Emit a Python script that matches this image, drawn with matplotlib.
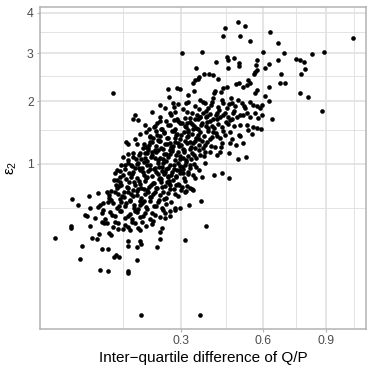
import numpy as np
import matplotlib
matplotlib.use("Agg")
import matplotlib.pyplot as plt

plt.rcParams['font.family'] = ['Liberation Sans', 'DejaVu Sans']
plt.rcParams['mathtext.fontset'] = 'custom'
plt.rcParams['mathtext.rm'] = 'Liberation Sans'
plt.rcParams['mathtext.it'] = 'Liberation Sans:italic'

# ---- data ----
x_iqr = [
    # top outliers
    .497, .524, .447, .440, .505, .629, .545, .664, 1.045, .303, .367, .599, .692, .826, .888, .455, .459, .481,
    # eps 2.45 - 2.9
    .415, .501, .501, .574, .569, .625, .664, .748, .767, .786, .347, .459, .607, .791, .574, .565, .561, .373,
    .390, .404, .678, .772, .356, .353, .422,
    # eps 2.1 - 2.45
    .344, .337, .501, .489, .536, .545, .674, .696, .262, .288, .297, .440, .455, .411, .408, .340, .321, .433,
    .516, .532, .574, .565, .625, .607, .767, .806, .265, .130,
    # eps 1.65 - 2.1
    .276, .279, .315, .321, .360, .370, .377, .404, .401, .436, .440, .470, .474, .497, .512, .545, .557, .574,
    .625, .594, .586, .306, .218, .318, .267, .334, .350, .360, .370, .383, .394, .418, .429, .440, .459, .477,
    .493, .516, .545, .565, .328, .353, .877, .638, .177, .172, .184, .270, .288, .291, .256, .240, .253, .291,
    .344, .387, .422, .455, .485, .524, .240, .282, .312, .404, .474, .532, .578, .594,
    # eps 1.5 - 1.65
    .201, .232, .226, .224, .245, .267, .282, .303, .315, .328, .340, .353, .367, .380, .394, .408, .422, .436,
    .451, .466, .481, .505, .532, .557, .574, .211, .240, .321,
    # eps 1.34 - 1.5
    .189, .203, .213, .229, .240, .250, .262, .273, .285, .297, .309, .321, .334, .347, .360, .373, .387, .401,
    .415, .429, .447, .466, .501, .536, .553, .505, .590, .474, .177, .235,
    # eps 1.2 - 1.34
    .157, .162, .182, .198, .208, .218, .229, .240, .248, .259, .270, .282, .294, .306, .318, .331, .344, .356,
    .370, .383, .397, .411, .436, .433, .466, .489, .516, .226, .267, .312,
    # eps 1.05 - 1.2
    .208, .206, .189, .172, .160, .150, .218, .229, .240, .250, .262, .273, .285, .297, .309, .321, .334, .347,
    .360, .377, .394, .418, .429, .462, .528, .497, .201, .180, .235, .315,
    # eps 0.88 - 1.05
    .146, .160, .170, .184, .194, .206, .213, .224, .235, .245, .256, .267, .279, .291, .303, .315, .328, .340,
    .356, .377, .154, .189, .137, .134, .297,
    # eps 0.81 - 0.91
    .163, .172, .198, .208, .218, .229, .240, .250, .262, .273, .285, .297, .309, .321, .344, .367, .408, .436,
    .462, .182, .144, .157, .245,
    # eps 0.67 - 0.8
    .137, .135, .141, .146, .163, .175, .189, .201, .211, .221, .232, .243, .253, .264, .279, .291, .303, .328,
    .337, .315, .334, .160, .184, .267,
    # eps 0.59 - 0.69
    .121, .121, .086, .101, .061, .312, .126, .139, .152, .160, .172, .182, .191, .201, .213, .226, .240, .250,
    .262, .291, .144, .206,
    # eps 0.48 - 0.57
    .069, .105, .101, .110, .324, .297, .282, .130, .137, .146, .154, .166, .175, .184, .194, .203, .213, .224,
    .235, .245, .256, .119, .088, .363,
    # eps 0.40 - 0.48
    .108, .080, .083, .267, .253, .240, .226, .253, .124, .134, .144, .154, .166, .177, .189, .201, .213, .096,
    .114, .170, .282, .267,
    # eps 0.31 - 0.39
    .059, .060, .088, .108, .112, .117, .130, .134, .139, .154, .160, .170, .177, .139, .150, .166, .184, .189,
    .194, .203, .218, .221, .245, .380,
    # low tail
    .103, .121, .125, .240, .312, .040, .075, .091, .100, .108, .119, .160, .162, .189, .191, .182, .232, .240,
    .072, .132, .135, .141, .182, .105, .119, .160, .162, .191, .360,
    # dense core (overlapping points)
    .214, .236, .251, .268, .289, .301, .317, .338, .352, .365,
    .219, .243, .257, .276, .292, .306, .326, .341, .358, .372,
    .191, .207, .227, .249, .263, .281, .296, .312, .331, .347,
    .176, .196, .214, .233, .253, .271, .288, .305, .322, .338,
    .167, .186, .203, .224, .241, .258, .276, .293, .311, .318,
    .158, .173, .192, .209, .228, .247, .266, .283, .300,
    .149, .165, .181, .198, .217, .236, .255, .271,
    .141, .157, .174, .189, .207, .229, .249,
    .127, .146, .162, .181, .196, .218,
    .126, .133, .143, .151, .168, .186, .203, .222, .243, .262,
    .279, .297, .311, .333, .348, .364, .386, .404, .419, .441,
    .356, .379, .398, .413, .427, .448, .463, .483, .503, .519,
    .382, .402, .418, .459, .392, .378, .356, .337, .322, .283,
    .272, .252, .234, .212, .201, .182, .173, .162, .155, .143,
    .131, .138, .152, .118, .111,
    .195, .217, .238, .261, .284, .206, .226, .247, .268, .291,
    .310, .329, .345, .327, .307, .286, .265, .244, .222, .199,
    .178, .171, .186, .199, .213, .232, .258, .279, .300, .318,
    .342, .361, .381, .296, .278, .256, .237, .215, .188, .167,
]

eps2 = [
    # top outliers
    3.77, 3.67, 3.62, 3.42, 3.42, 3.52, 3.30, 3.25, 3.37, 3.02, 3.04, 3.04, 3.02, 2.99, 3.04, 2.92, 2.86, 2.90,
    # eps 2.45 - 2.9
    2.81, 2.79, 2.72, 2.86, 2.745, 2.77, 2.86, 2.88, 2.86, 2.81, 2.68, 2.68, 2.68, 2.66, 2.64, 2.59, 2.55, 2.55,
    2.55, 2.53, 2.55, 2.55, 2.49, 2.45, 2.45,
    # eps 2.1 - 2.45
    2.41, 2.36, 2.36, 2.34, 2.43, 2.36, 2.36, 2.36, 2.24, 2.26, 2.24, 2.26, 2.28, 2.20, 2.16, 2.20, 2.13, 2.18,
    2.28, 2.32, 2.22, 2.16, 2.28, 2.11, 2.16, 2.09, 2.09, 2.16,
    # eps 1.65 - 2.1
    1.97, 1.90, 1.97, 1.99, 2.03, 1.99, 1.97, 2.07, 1.99, 2.03, 1.97, 2.07, 1.97, 2.03, 1.97, 1.99, 1.94, 1.92,
    2.01, 1.94, 1.88, 1.86, 1.81, 1.81, 1.79, 1.79, 1.756, 1.72, 1.79, 1.74, 1.77, 1.79, 1.72, 1.756, 1.72, 1.79,
    1.72, 1.756, 1.72, 1.79, 1.70, 1.69, 1.83, 1.69, 1.756, 1.69, 1.67, 1.756, 1.69, 1.65, 1.65, 1.94, 1.88, 1.95,
    1.92, 1.88, 1.90, 1.88, 1.92, 1.88, 1.72, 1.81, 1.70, 1.69, 1.69, 1.79, 1.70, 1.756,
    # eps 1.5 - 1.65
    1.585, 1.62, 1.57, 1.55, 1.52, 1.585, 1.52, 1.62, 1.55, 1.635, 1.57, 1.52, 1.62, 1.57, 1.65, 1.535, 1.60, 1.55,
    1.635, 1.67, 1.57, 1.585, 1.585, 1.55, 1.535, 1.52, 1.65, 1.50,
    # eps 1.34 - 1.5
    1.438, 1.47, 1.39, 1.486, 1.406, 1.454, 1.375, 1.486, 1.422, 1.36, 1.47, 1.406, 1.438, 1.375, 1.47, 1.406,
    1.486, 1.39, 1.454, 1.375, 1.422, 1.47, 1.422, 1.502, 1.438, 1.406, 1.52, 1.36, 1.36, 1.344,
    # eps 1.2 - 1.34
    1.31, 1.283, 1.283, 1.283, 1.224, 1.314, 1.254, 1.329, 1.21, 1.283, 1.239, 1.314, 1.254, 1.21, 1.298, 1.239,
    1.329, 1.268, 1.224, 1.314, 1.254, 1.239, 1.298, 1.239, 1.298, 1.268, 1.298, 1.195, 1.195, 1.329,
    # eps 1.05 - 1.2
    1.195, 1.152, 1.152, 1.152, 1.137, 1.095, 1.123, 1.166, 1.082, 1.137, 1.095, 1.18, 1.123, 1.068, 1.166, 1.109,
    1.152, 1.082, 1.123, 1.166, 1.166, 1.123, 1.166, 1.152, 1.095, 1.068, 1.082, 1.068, 1.054, 1.054,
    # eps 0.88 - 1.05
    .987, 1.014, .974, 1.014, .948, 1.041, .987, .935, 1.014, .961, 1.041, .987, .935, 1.014, .961, 1.027, .948,
    1.0, .922, 1.014, .935, .922, .922, .884, .922,
    # eps 0.81 - 0.91
    .884, .897, .859, .909, .847, .897, .823, .871, .835, .897, .847, .884, .823, .871, .823, .835, .859, .884,
    .823, .823, .835, .811, .909,
    # eps 0.67 - 0.8
    .799, .741, .73, .741, .776, .776, .753, .787, .719, .764, .707, .776, .73, .787, .696, .753, .719, .707,
    .685, .674, .696, .707, .696, .741,
    # eps 0.59 - 0.69
    .631, .600, .621, .652, .589, .663, .674, .642, .610, .663, .621, .674, .600, .642, .610, .663, .631, .589,
    .652, .621, .589, .685,
    # eps 0.48 - 0.57
    .530, .530, .511, .483, .530, .502, .502, .549, .502, .559, .521, .569, .530, .492, .549, .511, .569, .521,
    .559, .502, .540, .559, .502, .569,
    # eps 0.40 - 0.48
    .456, .438, .429, .474, .456, .421, .438, .412, .465, .429, .474, .412, .447, .474, .421, .456, .404, .412,
    .404, .404, .483, .429,
    # eps 0.31 - 0.39
    .331, .346, .346, .379, .370, .370, .339, .379, .370, .354, .339, .379, .370, .323, .323, .316, .331, .316,
    .379, .346, .362, .387, .331, .346,
    # low tail
    .287, .294, .280, .302, .246, .259, .208, .259, .253, .190, .190, .240, .208, .240, .220, .202, .202, .253,
    .137, .146, .157, .146, .132, .088, .084, .077, .084, 0.0, 0.0,
    # dense core (overlapping points)
    1.41, 1.33, 1.47, 1.30, 1.44, 1.26, 1.38, 1.29, 1.42, 1.33,
    1.17, 1.22, 1.13, 1.25, 1.16, 1.08, 1.20, 1.12, 1.19, 1.10,
    1.06, 0.99, 1.08, 1.01, 0.95, 1.05, 0.97, 0.99, 1.06, 0.96,
    0.95, 0.89, 0.93, 0.87, 0.90, 0.86, 0.92, 0.88, 0.90, 0.86,
    0.83, 0.78, 0.82, 0.76, 0.81, 0.77, 0.80, 0.74, 0.79, 0.73,
    0.72, 0.68, 0.71, 0.66, 0.70, 0.66, 0.69, 0.64, 0.68,
    0.62, 0.58, 0.63, 0.57, 0.61, 0.58, 0.60, 0.56,
    0.52, 0.55, 0.50, 0.53, 0.49, 0.52, 0.48,
    0.44, 0.47, 0.43, 0.46, 0.43, 0.45,
    0.58, 0.66, 0.77, 0.86, 0.98, 1.12, 1.24, 1.37, 1.51, 1.58,
    1.66, 1.62, 1.56, 1.60, 1.53, 1.58, 1.53, 1.46, 1.41, 1.48,
    1.86, 1.82, 1.93, 1.76, 1.84, 1.79, 1.95, 1.83, 1.76, 1.91,
    1.63, 1.57, 1.68, 1.60, 1.35, 1.26, 1.35, 1.52, 1.47, 1.37,
    1.20, 1.28, 1.19, 1.27, 1.15, 1.00, 1.09, 1.05, 0.98, 0.91,
    0.80, 0.70, 0.66, 0.66, 0.55,
    1.22, 1.09, 0.96, 0.84, 0.74, 0.83, 0.95, 1.07, 1.14, 1.29,
    1.19, 1.31, 1.22, 0.98, 0.93, 0.83, 0.76, 0.72, 0.64, 0.69,
    0.74, 0.87, 0.94, 1.02, 1.31, 1.42, 1.37, 1.49, 1.42, 1.62,
    1.68, 1.71, 1.72, 1.10, 0.99, 0.93, 0.81, 0.74, 0.57, 0.64,
]

x_major = [0.3, 0.6, 0.9]
x_minor = [0.15, 0.45, 0.75, 1.05]
y_major = [1, 2, 3, 4]
y_minor = [0.5, 1.5, 2.5, 3.5]
x_limits = (0.0251, 1.119)
y_limits = (-0.009, 4.16)
x_title = "Inter\u2212quartile difference of Q/P"
y_title = r"$\mathrm{\varepsilon}_{\mathrm{2}}$"


def fwd(v):
    v = np.asarray(v, dtype=float)
    return np.sign(v) * np.sqrt(np.abs(v))


def inv(v):
    v = np.asarray(v, dtype=float)
    return np.sign(v) * v ** 2


fig = plt.figure(figsize=(3.67, 3.68), dpi=100)
W, H = 367, 368
ax = fig.add_axes([40 / W, 1 - 329 / H, 326 / W, 322 / H])
ax.set_xscale('function', functions=(fwd, inv))
ax.set_yscale('function', functions=(fwd, inv))

ax.scatter(x_iqr, eps2, s=11, c='black', linewidths=0, zorder=3)

ax.set_xlim(*x_limits)
ax.set_ylim(*y_limits)

ax.set_xticks(x_major)
ax.set_xticklabels([f"{v:.1f}" for v in x_major])
ax.set_xticks(x_minor, minor=True)
ax.set_yticks(y_major)
ax.set_yticklabels([str(v) for v in y_major])
ax.set_yticks(y_minor, minor=True)

grid_col = '#DEDEDE'
ax.grid(which='major', color=grid_col, linewidth=1.1)
ax.grid(which='minor', color=grid_col, linewidth=0.6)
ax.set_axisbelow(True)

for sp in ax.spines.values():
    sp.set_color('#B3B3B3')
    sp.set_linewidth(1.1)

ax.tick_params(which='major', length=2.5, width=0.8, color='#B3B3B3',
               labelsize=8.8, labelcolor='#4D4D4D', pad=2)
ax.tick_params(which='minor', length=0)

ax.set_xlabel(x_title, fontsize=11, color='black', labelpad=3)
ax.set_ylabel(y_title, fontsize=11, color='black', labelpad=6)

fig.savefig('out.png', dpi=100)
